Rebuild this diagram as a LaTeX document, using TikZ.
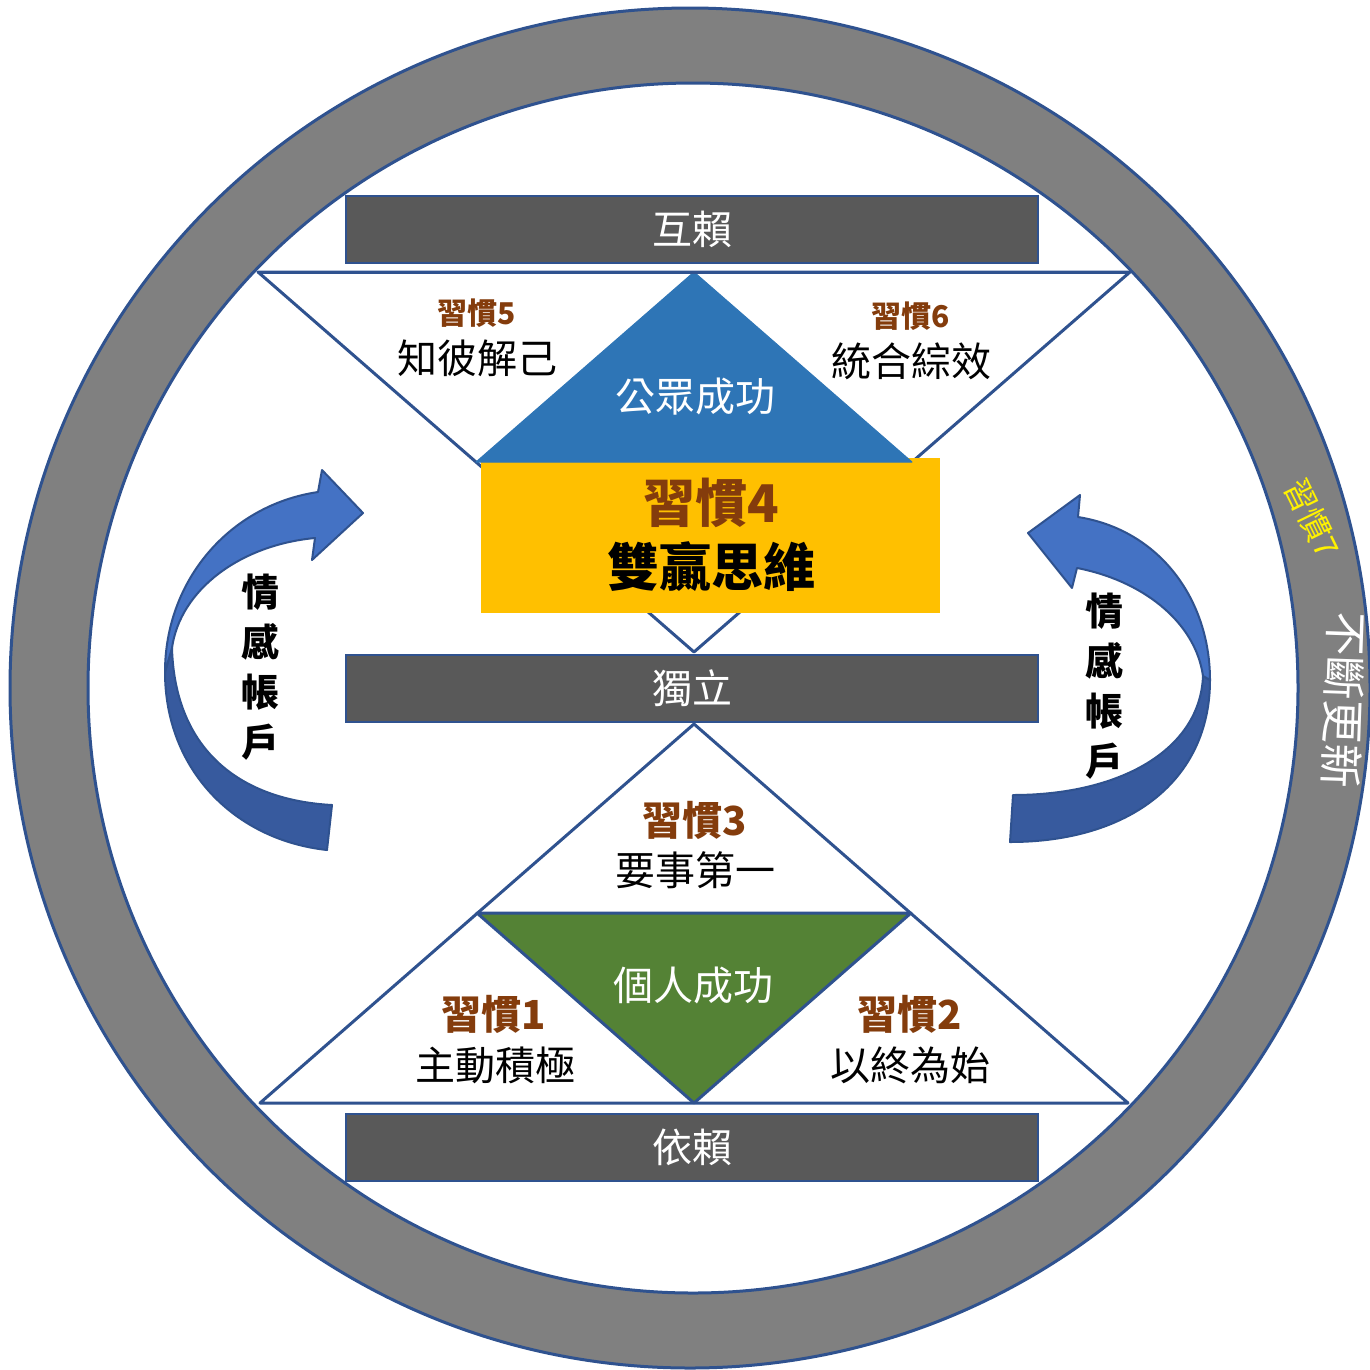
\documentclass[tikz,border=0pt]{standalone}
\usepackage{fontspec}
\setmainfont{Noto Sans CJK TC}
\definecolor{ringgray}{HTML}{808080}
\definecolor{lineblue}{HTML}{2F528F}
\definecolor{bargray}{HTML}{595959}
\definecolor{pubblue}{HTML}{2E75B6}
\definecolor{winyellow}{HTML}{FFC000}
\definecolor{persgreen}{HTML}{548235}
\definecolor{habitbrown}{HTML}{843C0C}
\definecolor{arrowlight}{HTML}{4472C4}
\definecolor{arrowdark}{HTML}{375A9E}
\tikzset{
  edge/.style={draw=lineblue, line width=3pt, line join=round},
  bar/.style={fill=bargray, draw=lineblue, line width=2.5pt, minimum width=692pt, minimum height=67pt, inner sep=0pt, text=white, font=\fontsize{40}{48}\selectfont},
  habit/.style={text=habitbrown, font=\fontsize{40}{48}\selectfont\bfseries, inner sep=0pt},
  smallhabit/.style={text=habitbrown, font=\fontsize{30}{36}\selectfont\bfseries, inner sep=0pt},
  phrase/.style={text=black, font=\fontsize{40}{48}\selectfont, inner sep=0pt},
  wlabel/.style={text=white, font=\fontsize{40}{48}\selectfont, inner sep=0pt},
  vlabel/.style={text=black, font=\fontsize{38}{50}\selectfont\bfseries, align=center, inner sep=0pt},
  lightband/.style={fill=arrowlight, draw=lineblue, line width=2pt, line join=round},
  darkband/.style={fill=arrowdark, draw=lineblue, line width=2pt, line join=round},
}
\begin{document}
\begin{tikzpicture}[x=1pt, y=-1pt]
\useasboundingbox[fill=white] (0,0) rectangle (1370,1369);
% ring
\fill[ringgray, even odd rule] (690,688) circle (680) (693,688) circle (605);
\draw[lineblue, line width=3pt] (690,688) circle (680);
\draw[lineblue, line width=3pt] (693,688) circle (605);
% coordinates
\coordinate (TL) at (258,272);
\coordinate (TR) at (1130,272);
\coordinate (TB) at (694,652);
\coordinate (TM) at (694,272);
\coordinate (TML) at (476,462);
\coordinate (TMR) at (912,462);
\coordinate (BT) at (694,724);
\coordinate (BL) at (260,1103);
\coordinate (BR) at (1128,1103);
\coordinate (BML) at (477,913);
\coordinate (BMR) at (911,913);
\coordinate (BMB) at (694,1103);
% bars
\node[bar] (interdep) at (692,229.5) {互賴};
\node[bar] (indep) at (692,688.5) {獨立};
\node[bar] (dep) at (692,1147.5) {依賴};
% top inverted triangle
\draw[edge] (TL) -- (TR) -- (TB) -- cycle;
% yellow box
\node[fill=winyellow, minimum width=459pt, minimum height=155pt, inner sep=0pt] (win) at (710.5,535.5) {};
% blue triangle
\filldraw[fill=pubblue, draw=pubblue, line width=1pt, line join=round] (TM) -- (TMR) -- (TML) -- cycle;
\draw[edge] (TL) -- (TR);
% bottom triangle
\draw[edge] (BT) -- (BR) -- (BL) -- cycle;
\filldraw[fill=persgreen, edge] (BML) -- (BMR) -- (BMB) -- cycle;
% left curved arrow
\path[darkband] (172,648) .. controls (175,750) and (240,800) .. (332,805) -- (327,850)
   .. controls (235,840) and (165,770) .. (165,672) -- cycle;
\path[lightband] (165,672) .. controls (165,580) and (230,505) .. (318,492) -- (322,470) -- (363,513) -- (312,560) -- (315,538)
   .. controls (240,545) and (180,590) .. (172,648) -- cycle;
% right curved arrow
\path[darkband] (1203,676) .. controls (1200,750) and (1120,795) .. (1013,795) -- (1010,842)
   .. controls (1130,842) and (1210,780) .. (1210,680) -- cycle;
\path[lightband] (1210,680) .. controls (1210,600) and (1160,530) .. (1078,517) -- (1080,495) -- (1028,533) -- (1072,588) -- (1077,568)
   .. controls (1140,580) and (1195,620) .. (1203,676) -- cycle;
% texts
\node[smallhabit] (h5) at (477,313) {習慣5};
\node[phrase] (p5) at (477,358) {知彼解己};
\node[smallhabit] (h6) at (911,316) {習慣6};
\node[phrase] (p6) at (911,361) {統合綜效};
\node[wlabel] (pub) at (695,397) {公眾成功};
\node[habit, font=\fontsize{52}{60}\selectfont\bfseries] (h4) at (711,503) {習慣4};
\node[phrase, font=\fontsize{52}{60}\selectfont\bfseries] (p4) at (711,567) {雙贏思維};
\node[habit] (h3) at (695,820) {習慣3};
\node[phrase] (p3) at (695,870) {要事第一};
\node[wlabel] (pers) at (693,985) {個人成功};
\node[habit] (h1) at (494,1014) {習慣1};
\node[phrase] (p1) at (495,1065) {主動積極};
\node[habit] (h2) at (910,1014) {習慣2};
\node[phrase] (p2) at (910,1065) {以終為始};
\node[vlabel] (eaL) at (260,667) {情\\感\\帳\\戶};
\node[vlabel] (eaR) at (1104,686) {情\\感\\帳\\戶};
\node[text=yellow, font=\fontsize{32}{36}\selectfont, rotate=-64, inner sep=0pt] (h7) at (1312,518) {習慣7};
\node[text=white, font=\fontsize{44}{50}\selectfont, rotate=-92, inner sep=0pt] (p7) at (1344,700) {不斷更新};
\end{tikzpicture}
\end{document}
